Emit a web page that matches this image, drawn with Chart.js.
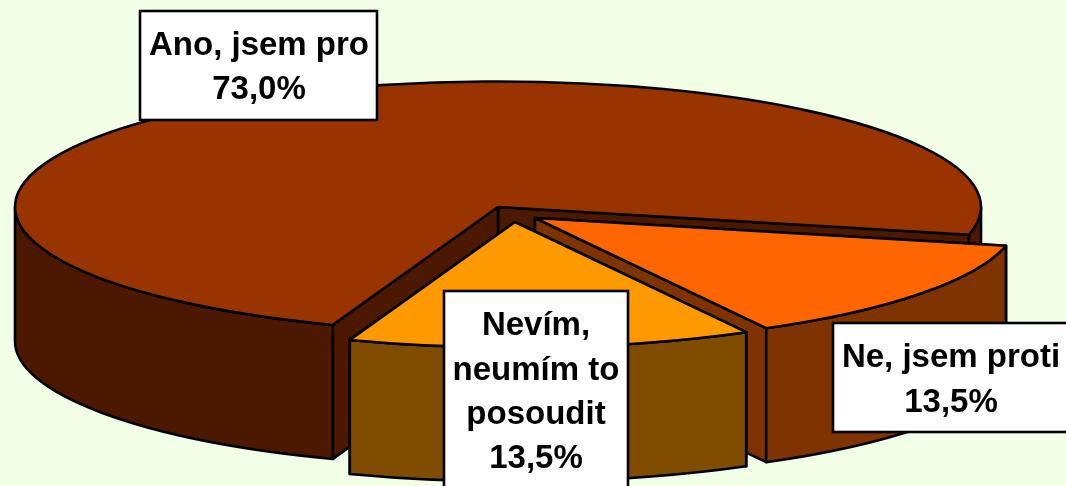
<!DOCTYPE html>
<html>
<head>
<meta charset="utf-8">
<style>
html,body{margin:0;padding:0;background:#f0ffe6;overflow:hidden}
canvas{display:block}
</style>
<script src="https://cdn.jsdelivr.net/npm/chart.js@4/dist/chart.umd.min.js"></script>
</head>
<body>
<canvas id="c" width="1066" height="486"></canvas>
<script>
const categories = ['Ano, jsem pro', 'Ne, jsem proti', 'Nevím, neumím to posoudit'];
const values = [73.0, 13.5, 13.5];
const labelLines = [['Ano, jsem pro'], ['Ne, jsem proti'], ['Nevím,', 'neumím to', 'posoudit']];
const topColors = ['#993300', '#ff6600', '#ff9900'];
const wallColors = ['#4c1900', '#7f3300', '#7f4c00'];

// 3D projection and label styling
const pieCentre = {x: 498, y: 207, rx: 483, ry: 125.5, depth: 134};
const explode = [[0, 0], [37, 11], [17, 15]];
const labelBoxes = [
  {x: 140, y: 11, w: 237, h: 109, base: [55, 99], cx: 259},
  {x: 833, y: 323, w: 240, h: 109, base: [367, 412], cx: 951},
  {x: 444, y: 291, w: 184, h: 200, base: [335, 380, 424, 468], cx: 536}
];
const FONT = 'bold 33px "Liberation Sans", Arial, sans-serif';
const LINE = 2.6;

const pie3d = {
  id: 'pie3d',
  beforeDatasetDraw(chart, args) {
    const ctx = chart.ctx, P = pieCentre;
    const meta = args.meta;
    meta.data.forEach((el, i) => {
      const cx = P.x + explode[i][0], cy = P.y + explode[i][1];
      const a0 = el.startAngle, a1 = el.endAngle;
      const px = a => cx + P.rx * Math.cos(a), py = a => cy + P.ry * Math.sin(a);
      ctx.save();
      ctx.lineWidth = LINE;
      ctx.lineJoin = 'round';
      ctx.strokeStyle = '#000';
      ctx.fillStyle = wallColors[i];
      // flat cut faces, rear one first
      [a0, a1].sort((p, q) => py(p) - py(q)).forEach(a => {
        ctx.beginPath();
        ctx.moveTo(cx, cy);
        ctx.lineTo(px(a), py(a));
        ctx.lineTo(px(a), py(a) + P.depth);
        ctx.lineTo(cx, cy + P.depth);
        ctx.closePath();
        ctx.fill();
        ctx.stroke();
      });
      // curved outer wall, only the front-facing spans
      const TAU = Math.PI * 2;
      for (let k = -1; k <= 2; k++) {
        const s = Math.max(a0, k * TAU), e = Math.min(a1, k * TAU + Math.PI);
        if (e <= s) continue;
        ctx.beginPath();
        ctx.ellipse(cx, cy, P.rx, P.ry, 0, s, e);
        ctx.ellipse(cx, cy + P.depth, P.rx, P.ry, 0, e, s, true);
        ctx.closePath();
        ctx.fill();
        ctx.stroke();
      }
      // top face: the library's own arc element, squashed into the ellipse
      const R = el.outerRadius;
      ctx.save();
      ctx.translate(cx, cy);
      ctx.scale(P.rx / R, P.ry / R);
      ctx.translate(-el.x, -el.y);
      el.draw(ctx);
      ctx.restore();
      ctx.beginPath();
      ctx.moveTo(cx, cy);
      ctx.ellipse(cx, cy, P.rx, P.ry, 0, a0, a1);
      ctx.closePath();
      ctx.stroke();
      ctx.restore();
    });
    return false;
  },
  afterDraw(chart) {
    const ctx = chart.ctx;
    ctx.save();
    labelBoxes.forEach((b, i) => {
      ctx.fillStyle = '#fff';
      ctx.strokeStyle = '#000';
      ctx.lineWidth = LINE;
      ctx.fillRect(b.x, b.y, b.w, b.h);
      ctx.strokeRect(b.x, b.y, b.w, b.h);
      ctx.fillStyle = '#000';
      ctx.font = FONT;
      ctx.textAlign = 'center';
      ctx.textBaseline = 'alphabetic';
      const pct = values[i].toFixed(1).replace('.', ',') + '%';
      labelLines[i].concat(pct).forEach((t, j) => ctx.fillText(t, b.cx, b.base[j]));
    });
    ctx.restore();
  }
};

new Chart(document.getElementById('c'), {
  type: 'pie',
  data: {
    labels: categories,
    datasets: [{data: values, backgroundColor: topColors, borderWidth: 0}]
  },
  options: {
    responsive: false,
    animation: false,
    rotation: 200,
    layout: {padding: 0},
    plugins: {legend: {display: false}, tooltip: {enabled: false}}
  },
  plugins: [pie3d]
});
</script>
</body>
</html>
